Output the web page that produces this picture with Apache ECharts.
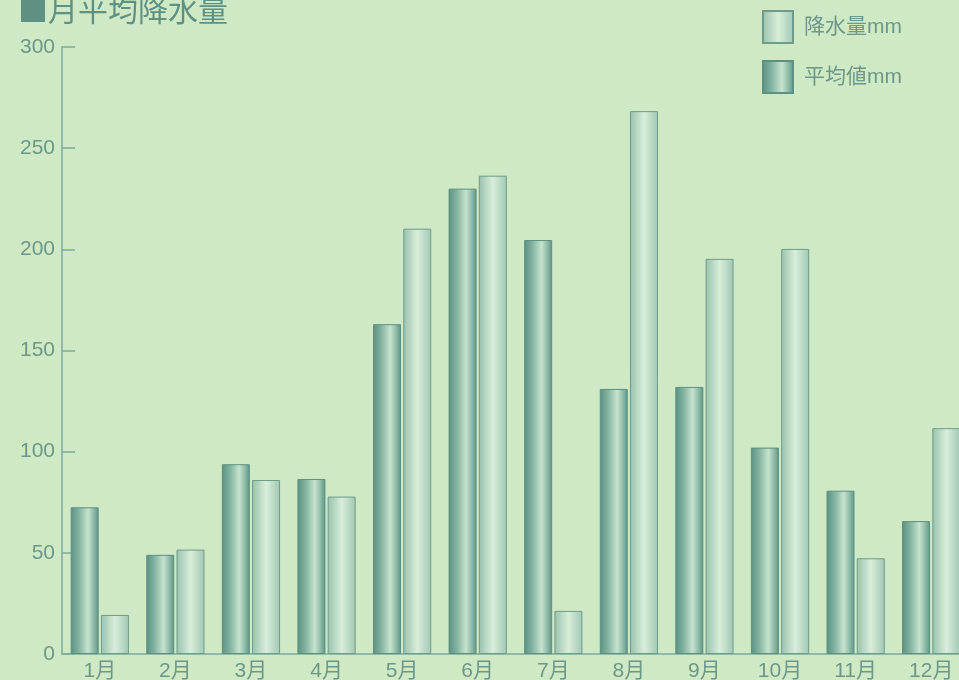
<!DOCTYPE html>
<html>
<head>
<meta charset="utf-8">
<script src="https://cdn.jsdelivr.net/npm/echarts@6/dist/echarts.min.js"></script>
<style>
  html, body { margin: 0; padding: 0; background: #cfe9c5; overflow: hidden; }
  #chart { width: 959px; height: 680px; }
</style>
</head>
<body>
<div id="chart"></div>
<script>
// Monthly categories and values (mm)
const months = ['1月', '2月', '3月', '4月', '5月', '6月', '7月', '8月', '9月', '10月', '11月', '12月'];
const averageMm = [72.5, 49, 93.8, 86.5, 163, 230, 204.6, 131, 132, 102, 80.7, 65.7];
const rainfallMm = [19.3, 51.6, 86, 77.8, 210.2, 236.4, 21.3, 268.3, 195.3, 200.2, 47.3, 111.6];
const yTicks = [0, 50, 100, 150, 200, 250, 300];

const textColor = '#6c9889';
const lineColor = '#7ea999';
const fontFamily = '"Liberation Sans", "Noto Sans CJK JP", sans-serif';

// Cylinder-like horizontal gradients
const darkFill = new echarts.graphic.LinearGradient(0, 0, 1, 0, [
  { offset: 0, color: '#5a9081' },
  { offset: 0.3, color: '#84b4a2' },
  { offset: 0.62, color: '#c6e3cd' },
  { offset: 0.85, color: '#88b6a4' },
  { offset: 1, color: '#5c9283' }
]);
const lightFill = new echarts.graphic.LinearGradient(0, 0, 1, 0, [
  { offset: 0, color: '#98c1ac' },
  { offset: 0.5, color: '#d8eed9' },
  { offset: 1, color: '#a0c8b3' }
]);

const chart = echarts.init(document.getElementById('chart'));
chart.setOption({
  backgroundColor: '#cfe9c5',
  animation: false,
  title: {
    text: '■月平均降水量',
    left: 13,
    top: -10,
    textStyle: { color: '#5f9182', fontSize: 30, fontWeight: 'normal', fontFamily: '"Noto Sans CJK JP", sans-serif' }
  },
  legend: {
    orient: 'vertical',
    left: 762,
    top: 10,
    padding: 0,
    icon: 'rect',
    itemWidth: 30,
    itemHeight: 32,
    itemGap: 16,
    textStyle: { color: textColor, fontSize: 21, fontFamily: fontFamily, padding: [0, 0, 0, 6] },
    data: ['降水量mm', '平均値mm']
  },
  // the last month runs past the right edge of the page
  grid: { left: 62, top: 47, bottom: 26, width: 907, containLabel: false, outerBoundsMode: 'none' },
  xAxis: {
    type: 'category',
    data: months,
    axisLine: { lineStyle: { color: lineColor, width: 1.5 } },
    axisTick: { show: false },
    axisLabel: { color: textColor, fontSize: 21, fontFamily: fontFamily, margin: 7 }
  },
  yAxis: {
    type: 'value',
    min: yTicks[0],
    max: yTicks[yTicks.length - 1],
    interval: 50,
    axisLine: { show: true, lineStyle: { color: lineColor, width: 1.5 } },
    axisTick: { show: true, inside: true, length: 13, lineStyle: { color: lineColor, width: 1.5 } },
    splitLine: { show: false },
    axisLabel: { color: textColor, fontSize: 21, fontFamily: fontFamily, margin: 7 }
  },
  series: [
    {
      name: '平均値mm',
      type: 'bar',
      data: averageMm,
      barWidth: 28,
      barGap: '8%',
      itemStyle: { color: darkFill, borderColor: '#5e9080', borderWidth: 1 }
    },
    {
      name: '降水量mm',
      type: 'bar',
      data: rainfallMm,
      barWidth: 28,
      itemStyle: { color: lightFill, borderColor: '#6e9c8b', borderWidth: 1 }
    }
  ]
});
</script>
</body>
</html>
